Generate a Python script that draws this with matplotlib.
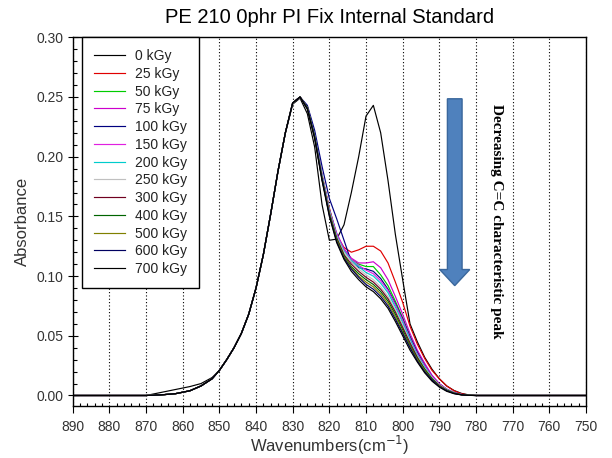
import matplotlib
matplotlib.use("Agg")
import matplotlib.pyplot as plt
from matplotlib.patches import FancyArrow
from matplotlib.ticker import MultipleLocator, FormatStrFormatter

plt.rcParams['font.family'] = ['Liberation Sans', 'DejaVu Sans']

# wavenumber grid (cm^-1)
wavenumber = [890, 880, 870, 866, 862, 858, 855, 852, 850, 848, 846, 844, 842, 840,
              838, 836, 834, 832, 830, 828, 826, 824, 822, 820, 818, 816, 814, 812,
              810, 808, 806, 804, 802, 800, 798, 796, 794, 792, 790, 788, 786, 784,
              782, 780, 770, 760, 750]

dose_labels = ['0 kGy', '25 kGy', '50 kGy', '75 kGy', '100 kGy', '150 kGy', '200 kGy',
               '250 kGy', '300 kGy', '400 kGy', '500 kGy', '600 kGy', '700 kGy']

abs_0 = [0, 0, 0, 0.0025, 0.005, 0.0075, 0.010, 0.015, 0.021, 0.030, 0.040, 0.052, 0.068, 0.090,
         0.118, 0.152, 0.188, 0.220, 0.244, 0.249, 0.236, 0.208, 0.160, 0.130, 0.131, 0.143, 0.170, 0.200,
         0.234, 0.243, 0.220, 0.180, 0.135, 0.097, 0.060, 0.045, 0.032, 0.022, 0.014, 0.008, 0.0042, 0.0018,
         0.0005, 0, 0, 0, 0]
abs_25 = [0, 0, 0, 0.0005, 0.0015, 0.004, 0.008, 0.014, 0.021, 0.030, 0.040, 0.052, 0.068, 0.090,
          0.118, 0.152, 0.188, 0.220, 0.245, 0.250, 0.242, 0.219, 0.185, 0.157, 0.134, 0.124, 0.120, 0.122,
          0.125, 0.125, 0.121, 0.111, 0.095, 0.078, 0.058, 0.043, 0.031, 0.021, 0.014, 0.008, 0.004, 0.0015,
          0.0004, 0, 0, 0, 0]
abs_50 = [0, 0, 0, 0.0005, 0.0015, 0.004, 0.008, 0.014, 0.021, 0.030, 0.040, 0.052, 0.068, 0.090,
          0.118, 0.152, 0.188, 0.220, 0.245, 0.250, 0.241, 0.218, 0.184, 0.156, 0.135, 0.122, 0.114, 0.110,
          0.108, 0.108, 0.101, 0.092, 0.079, 0.065, 0.050, 0.036, 0.026, 0.016, 0.0095, 0.005, 0.0024, 0.0008,
          0.0002, 0, 0, 0, 0]
abs_75 = [0, 0, 0, 0.0005, 0.0015, 0.004, 0.008, 0.014, 0.021, 0.030, 0.040, 0.052, 0.068, 0.090,
          0.118, 0.152, 0.188, 0.220, 0.245, 0.250, 0.241, 0.218, 0.184, 0.156, 0.136, 0.123, 0.115, 0.111,
          0.111, 0.112, 0.107, 0.097, 0.083, 0.068, 0.052, 0.038, 0.027, 0.017, 0.010, 0.0055, 0.0025, 0.0009,
          0.0002, 0, 0, 0, 0]
abs_100 = [0, 0, 0, 0.0005, 0.0015, 0.004, 0.008, 0.014, 0.021, 0.030, 0.040, 0.052, 0.068, 0.090,
           0.118, 0.152, 0.188, 0.220, 0.245, 0.250, 0.243, 0.222, 0.192, 0.165, 0.148, 0.130, 0.112, 0.107,
           0.106, 0.104, 0.098, 0.089, 0.077, 0.064, 0.049, 0.036, 0.025, 0.016, 0.0095, 0.005, 0.0023, 0.0008,
           0.0002, 0, 0, 0, 0]
abs_150 = [0, 0, 0, 0.0005, 0.0015, 0.004, 0.008, 0.014, 0.021, 0.030, 0.040, 0.052, 0.068, 0.090,
           0.118, 0.152, 0.188, 0.220, 0.245, 0.250, 0.241, 0.218, 0.184, 0.155, 0.135, 0.122, 0.114, 0.109,
           0.105, 0.102, 0.096, 0.088, 0.076, 0.063, 0.048, 0.035, 0.025, 0.016, 0.0095, 0.005, 0.0023, 0.0008,
           0.0002, 0, 0, 0, 0]
abs_200 = [0, 0, 0, 0.0005, 0.0015, 0.004, 0.008, 0.014, 0.021, 0.030, 0.040, 0.052, 0.068, 0.090,
           0.118, 0.152, 0.188, 0.220, 0.245, 0.250, 0.241, 0.218, 0.184, 0.155, 0.134, 0.121, 0.113, 0.108,
           0.103, 0.100, 0.094, 0.086, 0.074, 0.061, 0.047, 0.034, 0.024, 0.015, 0.009, 0.005, 0.0022, 0.0008,
           0.0002, 0, 0, 0, 0]
abs_250 = [0, 0, 0, 0.0005, 0.0015, 0.004, 0.008, 0.014, 0.021, 0.030, 0.040, 0.052, 0.068, 0.090,
           0.118, 0.152, 0.188, 0.220, 0.245, 0.250, 0.241, 0.217, 0.183, 0.154, 0.133, 0.120, 0.112, 0.106,
           0.101, 0.097, 0.091, 0.083, 0.072, 0.059, 0.045, 0.033, 0.023, 0.015, 0.009, 0.005, 0.002, 0.0008,
           0.0002, 0, 0, 0, 0]
abs_300 = [0, 0, 0, 0.0005, 0.0015, 0.004, 0.008, 0.014, 0.021, 0.030, 0.040, 0.052, 0.068, 0.090,
           0.118, 0.152, 0.188, 0.220, 0.245, 0.250, 0.241, 0.217, 0.182, 0.153, 0.132, 0.118, 0.110, 0.104,
           0.099, 0.095, 0.089, 0.081, 0.070, 0.057, 0.044, 0.032, 0.022, 0.014, 0.0085, 0.0045, 0.002, 0.0007,
           0.0002, 0, 0, 0, 0]
abs_400 = [0, 0, 0, 0.0005, 0.0015, 0.004, 0.008, 0.014, 0.021, 0.030, 0.040, 0.052, 0.068, 0.090,
           0.118, 0.152, 0.188, 0.220, 0.245, 0.250, 0.241, 0.217, 0.182, 0.152, 0.131, 0.117, 0.108, 0.102,
           0.097, 0.093, 0.087, 0.079, 0.068, 0.055, 0.042, 0.031, 0.022, 0.014, 0.008, 0.0045, 0.002, 0.0007,
           0.0002, 0, 0, 0, 0]
abs_500 = [0, 0, 0, 0.0005, 0.0015, 0.004, 0.008, 0.014, 0.021, 0.030, 0.040, 0.052, 0.068, 0.090,
           0.118, 0.152, 0.188, 0.220, 0.245, 0.250, 0.240, 0.216, 0.181, 0.152, 0.130, 0.116, 0.107, 0.100,
           0.095, 0.091, 0.085, 0.077, 0.066, 0.053, 0.041, 0.030, 0.021, 0.013, 0.008, 0.004, 0.0018, 0.0006,
           0.0001, 0, 0, 0, 0]
abs_600 = [0, 0, 0, 0.0005, 0.0015, 0.004, 0.008, 0.014, 0.021, 0.030, 0.040, 0.052, 0.068, 0.090,
           0.118, 0.152, 0.188, 0.220, 0.245, 0.250, 0.240, 0.216, 0.181, 0.151, 0.129, 0.115, 0.106, 0.099,
           0.093, 0.089, 0.083, 0.075, 0.064, 0.052, 0.040, 0.029, 0.020, 0.013, 0.0075, 0.004, 0.0017, 0.0006,
           0.0001, 0, 0, 0, 0]
abs_700 = [0, 0, 0, 0.0005, 0.0015, 0.004, 0.008, 0.014, 0.021, 0.030, 0.040, 0.052, 0.068, 0.090,
           0.118, 0.152, 0.188, 0.220, 0.245, 0.250, 0.240, 0.215, 0.180, 0.150, 0.128, 0.114, 0.104, 0.097,
           0.091, 0.087, 0.081, 0.073, 0.062, 0.050, 0.038, 0.028, 0.019, 0.012, 0.007, 0.0035, 0.0015, 0.0005,
           0.0001, 0, 0, 0, 0]

series = [abs_0, abs_25, abs_50, abs_75, abs_100, abs_150, abs_200,
          abs_250, abs_300, abs_400, abs_500, abs_600, abs_700]
colors = ['#000000', '#E00000', '#00CC00', '#CC00CC', '#000080', '#E020E0', '#00CCCC',
          '#C0C0C0', '#700020', '#006400', '#808000', '#000060', '#000000']

x_ticks = [890, 880, 870, 860, 850, 840, 830, 820, 810, 800, 790, 780, 770, 760, 750]

fig = plt.figure(figsize=(6.12, 4.58), dpi=100)
ax = fig.add_axes([72.7 / 612, 1 - 406 / 458, 513.3 / 612, 368.7 / 458])

for xv in x_ticks:
    ax.axvline(xv, color='black', lw=0.8, linestyle=(0, (1, 2)), zorder=0)

for vals, col, lab in zip(series, colors, dose_labels):
    ax.plot(wavenumber, vals, color=col, lw=0.85, label=lab)

ax.set_xlim(890, 750)
ax.set_ylim(-0.0088, 0.30)
ax.xaxis.set_major_locator(MultipleLocator(10))
ax.xaxis.set_minor_locator(MultipleLocator(2))
ax.yaxis.set_major_locator(MultipleLocator(0.05))
ax.yaxis.set_minor_locator(MultipleLocator(0.01))
ax.yaxis.set_major_formatter(FormatStrFormatter('%.2f'))
ax.xaxis.set_major_formatter(FormatStrFormatter('%d'))

ax.tick_params(axis='x', which='major', direction='out', length=5, width=0.8,
               labelsize=10, labelcolor='#333333', pad=5)
ax.tick_params(axis='x', which='minor', direction='in', length=2.5, width=0.8)
ax.tick_params(axis='y', which='major', direction='inout', length=7, width=0.8,
               labelsize=10, labelcolor='#333333', pad=3)
ax.tick_params(axis='y', which='minor', direction='in', length=3, width=0.8)
for s in ax.spines.values():
    s.set_linewidth(1.0)

ax.set_xlabel('Wavenumbers(cm$^{-1}$)', fontsize=12, color='#333333', labelpad=0)
ax.set_ylabel('Absorbance', fontsize=12, color='#333333', labelpad=5)
ax.set_title('PE 210 0phr PI Fix Internal Standard', fontsize=14.5, pad=10)

leg = ax.legend(loc='upper left', bbox_to_anchor=(0.0187, 1.0), borderaxespad=0,
                fontsize=10, frameon=True, fancybox=False, framealpha=1,
                edgecolor='black', handlelength=2.25, handletextpad=0.7,
                labelspacing=0.27, borderpad=0.85)
leg.get_frame().set_linewidth(1.0)
for t in leg.get_texts():
    t.set_color('#222222')

arrow = FancyArrow(785.8, 0.2485, 0, -(0.2485 - 0.092), width=4.0, head_width=8.2,
                   head_length=0.0135, length_includes_head=True,
                   facecolor='#4F81BD', edgecolor='#3A679C', lw=1.0, zorder=3)
ax.add_patch(arrow)

ax.text(774.4, 0.1458, 'Decreasing C=C characteristic peak', rotation=-90,
        ha='center', va='center', fontsize=11, fontweight='bold',
        family='Liberation Serif', color='black')

fig.savefig('out.png', dpi=100)
